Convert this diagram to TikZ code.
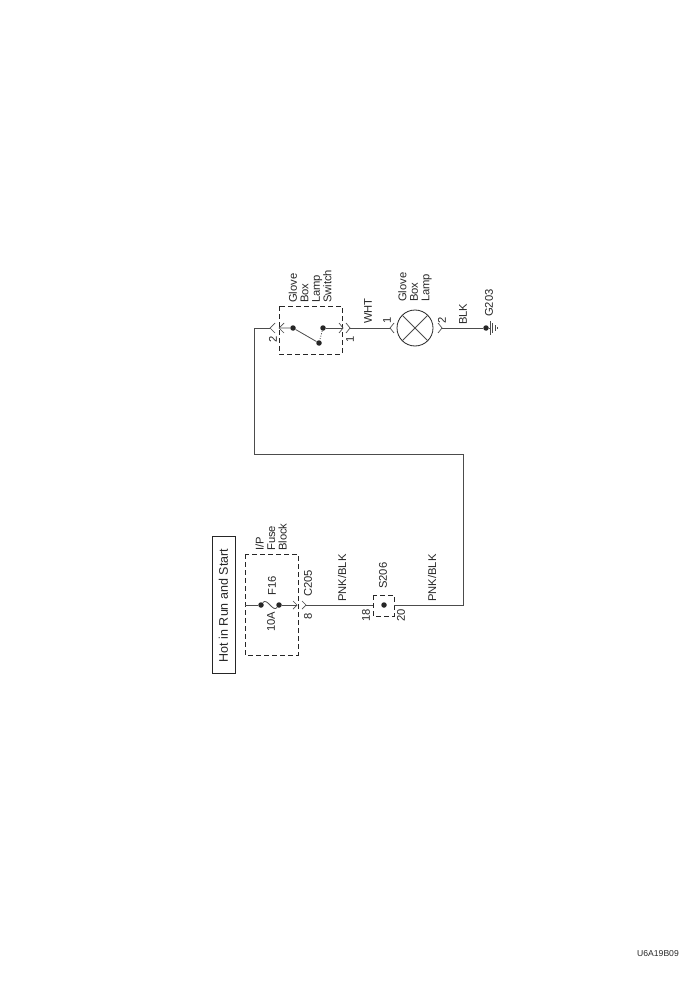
\documentclass[tikz,border=0pt]{standalone}
\usepackage{fontspec}
\setmainfont{Liberation Sans}
\begin{document}
\begin{tikzpicture}[x=1pt,y=-1pt,
    wire/.style={draw=black!70, line width=0.8pt},
    dashbox/.style={draw=black!85, line width=0.9pt, dash pattern=on 5pt off 3pt},
    dot/.style={circle, fill=black!85, inner sep=0pt, minimum size=5.5pt},
    chevron/.style={draw=black!70, line width=0.7pt},
    label/.style={font=\fontsize{11.2}{11.5}\selectfont, rotate=90, anchor=west, align=left, inner sep=0pt, text=black!85}
]
\useasboundingbox (0,0) rectangle (700,1000);

% Feed
\node[draw=black!85, line width=0.9pt, minimum width=23pt, minimum height=137pt, inner sep=0pt] (hot) at (223.5,604.5) {};
\node[font=\fontsize{12.5}{12.5}\selectfont, rotate=90, inner sep=0pt, text=black!85] (hottext) at (223.5,605.5) {Hot in Run and Start};

% Fuse block
\draw[dashbox] (245,554) rectangle (298,655);
\node[label] (ipfuse) at (271,551) {I/P\\Fuse\\Block};
\coordinate (fusein) at (245,605);
\node[dot] (fusea) at (261,605) {};
\node[dot] (fuseb) at (279,605) {};
\coordinate (cfuseout) at (297,605);
\coordinate (cfusewire) at (306,605);
\draw[wire] (fusein) -- (fusea);
\draw[wire] (fusea) .. controls (267,597) and (273,613) .. (fuseb);
\draw[wire] (fuseb) -- (cfuseout);
\draw[chevron] (293,601) -- (cfuseout) -- (293,609);
\draw[chevron] (302,601) -- (cfusewire) -- (302,609);
\node[label, anchor=center] (ften) at (271,622) {10A};
\node[label] (fsixteen) at (272,596) {F16};
\node[label] (cname) at (308,597) {C205};
\node[label, anchor=center] (cpin) at (308,616) {8};

% Splice
\draw[dashbox] (373,595) rectangle (394,616);
\coordinate (spin) at (373,605);
\coordinate (spout) at (394,605);
\node[dot] (sdot) at (384,605) {};
\draw[wire] (cfusewire) -- (spin);
\node[label] (pnka) at (342,602) {PNK/BLK};
\node[label] (sname) at (383,589) {S206};
\node[label, anchor=center] (seighteen) at (366,615) {18};
\node[label, anchor=center] (stwenty) at (401,615) {20};
\node[label] (pnkb) at (432,602) {PNK/BLK};

% Long run
\coordinate (runb) at (463,605);
\coordinate (runc) at (463,454);
\coordinate (rund) at (254,454);
\coordinate (rune) at (254,328);
\coordinate (swin) at (270,328);
\draw[wire] (spout) -- (runb) -- (runc) -- (rund) -- (rune) -- (swin);

% Switch
\draw[dashbox] (279,306) rectangle (342,354);
\node[label] (swname) at (310,303) {Glove\\Box\\Lamp\\Switch};
\coordinate (swinner) at (279,328);
\coordinate (swouter) at (343,328);
\coordinate (swwire) at (350,328);
\draw[chevron] (275,323) -- (swin) -- (275,333);
\draw[chevron] (284,323) -- (swinner) -- (284,333);
\node[dot] (swa) at (293,328) {};
\node[dot] (swb) at (323,328) {};
\node[dot] (swc) at (319,343) {};
\draw[wire] (swinner) -- (swa) -- (swc);
\draw[wire, dash pattern=on 1pt off 1.5pt] (swb) -- (swc);
\draw[wire] (swb) -- (swouter);
\draw[chevron] (339,323) -- (swouter) -- (339,333);
\draw[chevron] (346,323) -- (swwire) -- (346,333);
\node[label, anchor=center] (swtwo) at (273,339) {2};
\node[label, anchor=center] (swone) at (350,339) {1};
\node[label] (wht) at (368,324) {WHT};

% Lamp
\node[draw=black!85, circle, line width=0.8pt, minimum size=36pt, inner sep=0pt] (lamp) at (415,328) {};
\draw[wire] (lamp.45) -- (lamp.225);
\draw[wire] (lamp.135) -- (lamp.315);
\node[label] (lampname) at (415,302) {Glove\\Box\\Lamp};
\coordinate (lampin) at (390,328);
\coordinate (lampout) at (442,328);
\draw[wire] (swwire) -- (lampin);
\draw[chevron] (394,323) -- (lampin) -- (394,333);
\draw[chevron] (438,323) -- (lampout) -- (438,333);
\node[label, anchor=center] (lampone) at (387,320) {1};
\node[label, anchor=center] (lamptwo) at (442,320) {2};
\node[label] (blk) at (463,325) {BLK};

% Ground
\node[dot] (gnd) at (486,328) {};
\coordinate (gndbar) at (490,328);
\draw[wire] (lampout) -- (gnd);
\draw[wire] (gnd) -- (gndbar);
\draw[chevron] (490,321) -- (490,335);
\draw[chevron] (492.5,323) -- (492.5,333);
\draw[chevron] (495,325) -- (495,331);
\draw[chevron] (497.5,327) -- (497.5,329);
\node[label] (gname) at (489,317) {G203};

% Figure number
\node[font=\fontsize{8.6}{8.6}\selectfont, inner sep=0pt, text=black!85] (figid) at (658,953.5) {U6A19B09};
\end{tikzpicture}
\end{document}
